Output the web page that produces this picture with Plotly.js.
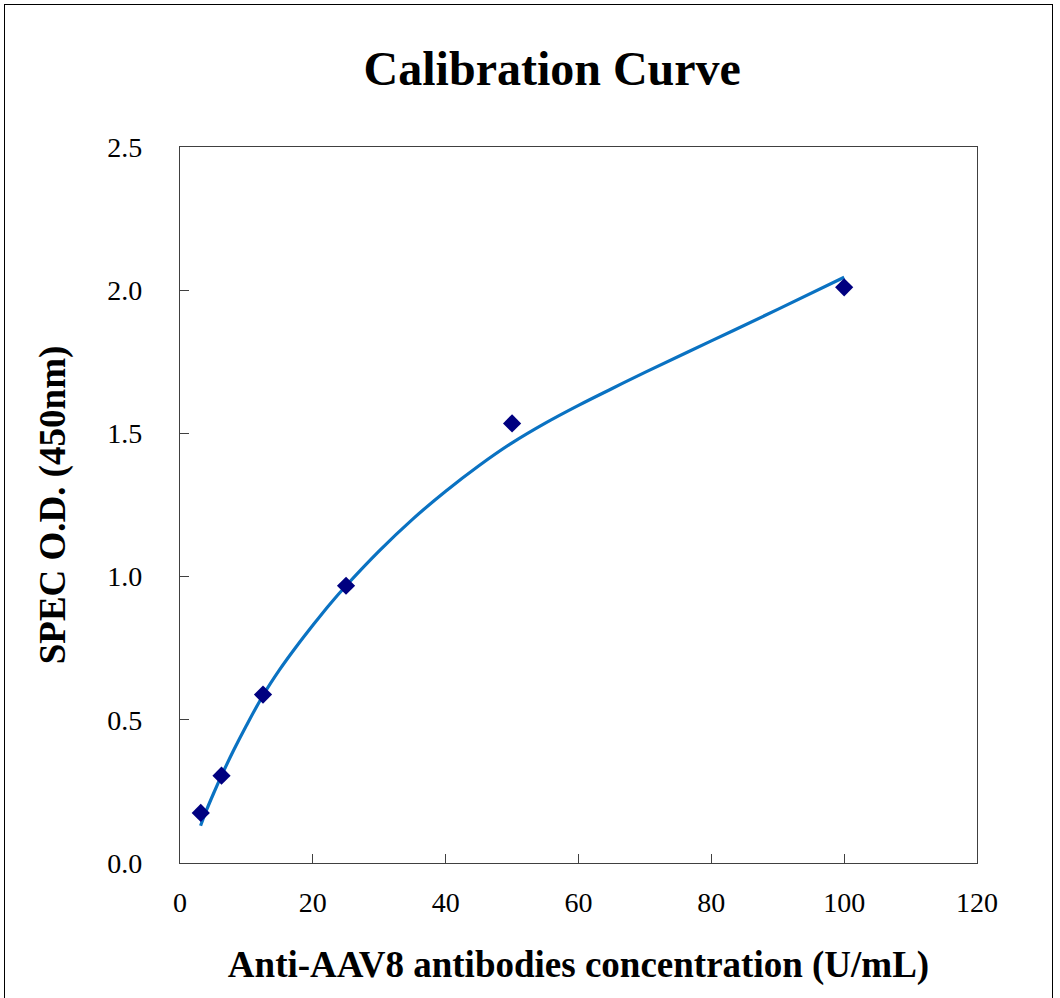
<!DOCTYPE html>
<html>
<head>
<meta charset="utf-8">
<script src="https://cdn.plot.ly/plotly-3.0.1.min.js"></script>
<style>
  html, body { margin: 0; padding: 0; background: #fff; }
  #wrap { position: relative; width: 1060px; height: 998px; overflow: hidden; }
  #chart { position: absolute; left: 0; top: 0; width: 1060px; height: 998px; }
  #frame { position: absolute; left: 4px; top: 4px; width: 1047px; height: 1010px;
           border: 1.5px solid #000; border-bottom: none; pointer-events: none; }
</style>
</head>
<body>
<div id="wrap">
  <div id="chart"></div>
  <div id="frame"></div>
</div>
<script>
// Measured standards
const concentration = [3.125, 6.25, 12.5, 25, 50, 100];
const odValues = [0.175, 0.305, 0.588, 0.968, 1.535, 2.010];

// Fitted calibration curve
const curveX = [3.1, 4, 5, 6.25, 8, 10, 12.5, 15, 17.5, 20, 22.5, 25, 30, 35, 40, 45, 50, 55, 60, 65, 70, 80, 90, 100];
const curveY = [0.13, 0.185, 0.24, 0.305, 0.39, 0.48, 0.585, 0.675, 0.755, 0.83, 0.902, 0.968, 1.09, 1.2, 1.298, 1.387, 1.467, 1.536, 1.598, 1.656, 1.713, 1.823, 1.933, 2.045];

const xTicks = [0, 20, 40, 60, 80, 100, 120];
const yTicks = [0, 0.5, 1.0, 1.5, 2.0, 2.5];
const yTickLabels = ['0.0', '0.5', '1.0', '1.5', '2.0', '2.5'];

const serif = 'Liberation Serif, Times New Roman, serif';

const traces = [
  {
    x: curveX, y: curveY, type: 'scatter', mode: 'lines',
    line: { color: '#0a72c2', width: 3.2, shape: 'spline', smoothing: 1 },
    hoverinfo: 'skip', showlegend: false
  },
  {
    x: concentration, y: odValues, type: 'scatter', mode: 'markers',
    marker: { symbol: 'diamond', size: 14, color: '#000080' },
    showlegend: false
  }
];

const layout = {
  width: 1060, height: 998,
  margin: { l: 180, r: 83, t: 147, b: 135 },
  paper_bgcolor: '#ffffff', plot_bgcolor: '#ffffff',
  showlegend: false,
  title: {
    text: '<b>Calibration Curve</b>',
    font: { family: serif, size: 48, color: '#000' },
    x: 0.521, xref: 'container', xanchor: 'center',
    y: 1 - 68 / 998, yref: 'container', yanchor: 'middle'
  },
  xaxis: {
    range: [0, 120], tickvals: xTicks, ticktext: xTicks.map(String),
    showgrid: false, zeroline: false,
    showline: true, linecolor: '#404040', linewidth: 1.2, mirror: true,
    ticks: 'inside', ticklen: 9, tickcolor: '#404040', tickwidth: 1.2,
    ticklabelstandoff: 14,
    tickfont: { family: serif, size: 28, color: '#000' },
    title: {
      text: '<b>Anti-AAV8 antibodies concentration (U/mL)</b>',
      font: { family: serif, size: 37, color: '#000' },
      standoff: 34
    }
  },
  yaxis: {
    range: [0, 2.5], tickvals: yTicks, ticktext: yTickLabels,
    showgrid: false, zeroline: false,
    showline: true, linecolor: '#404040', linewidth: 1.2, mirror: true,
    ticks: 'inside', ticklen: 9, tickcolor: '#404040', tickwidth: 1.2,
    ticklabelstandoff: 31,
    tickfont: { family: serif, size: 28, color: '#000' },
    title: {
      text: '<b>SPEC O.D. (450nm)</b>',
      font: { family: serif, size: 37, color: '#000' },
      standoff: 30
    }
  }
};

Plotly.newPlot('chart', traces, layout, { displayModeBar: false, staticPlot: true });
</script>
</body>
</html>
